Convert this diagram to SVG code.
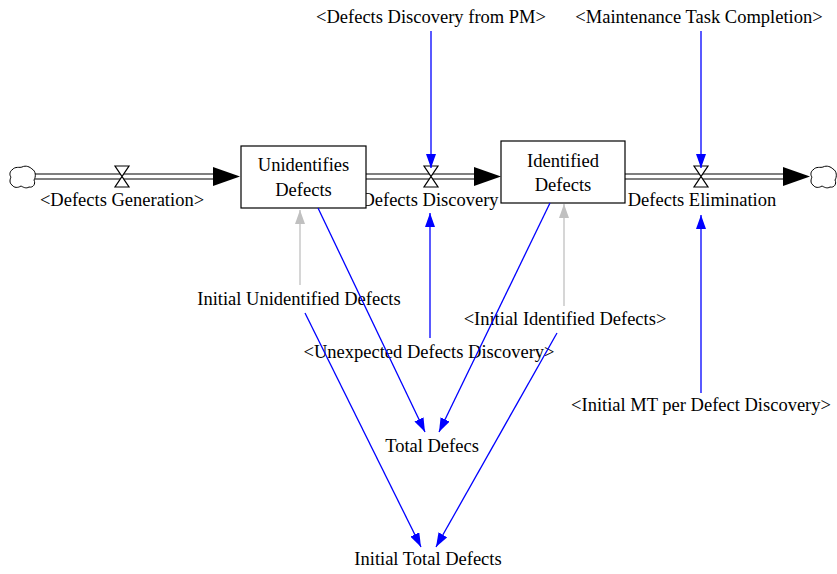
<svg xmlns="http://www.w3.org/2000/svg" width="837" height="574" viewBox="0 0 837 574">
<style>
text{font-family:'Liberation Serif','Times New Roman',serif;font-size:18.5px;fill:#000;text-anchor:middle}
.box{fill:#fff;stroke:#000;stroke-width:1.2}
.pipe{stroke:#000;stroke-width:1.2;fill:none}
.valve{fill:#fff;stroke:#000;stroke-width:1.2}
.cloud{fill:#fff;stroke:#000;stroke-width:1}
.blue{stroke:#0000ff;stroke-width:1.3;fill:none}
.gray{stroke:#c0c0c0;stroke-width:1.3;fill:none}
</style>
<defs>
<marker id="ab" viewBox="0 0 14 10" refX="14" refY="5" markerWidth="14" markerHeight="10" markerUnits="userSpaceOnUse" orient="auto"><path d="M0,0L14,5L0,10z" fill="#0000ff"/></marker>
<marker id="ag" viewBox="0 0 14 10" refX="14" refY="5" markerWidth="14" markerHeight="10" markerUnits="userSpaceOnUse" orient="auto"><path d="M0,0L14,5L0,10z" fill="#c0c0c0"/></marker>
</defs>
<g id="flows">
<path class="pipe" d="M35,174H214M35,179H214"/>
<path d="M213,167L240,176.5L213,186z" fill="#000"/>
<path class="pipe" d="M366,174H475M366,179H475"/>
<path d="M474,167L501,176.5L474,186z" fill="#000"/>
<path class="pipe" d="M625,174H784M625,179H784"/>
<path d="M783,167L810,176.5L783,186z" fill="#000"/>
</g>
<g id="cloud-left"><path class="cloud" d="M12,170c3,-4 8,-2 10,-3c4,-2 8,0 10,2c4,2 4,8 2,11c2,4 -1,8 -5,7c-3,2 -6,0 -8,-1c-3,2 -7,2 -9,-1c-3,-2 -2,-6 -1,-8c-2,-2 -1,-6 1,-7z"/></g>
<g id="cloud-right"><path class="cloud" d="M813,170c3,-4 8,-2 10,-3c4,-2 8,0 10,2c4,2 4,8 2,11c2,4 -1,8 -5,7c-3,2 -6,0 -8,-1c-3,2 -7,2 -9,-1c-3,-2 -2,-6 -1,-8c-2,-2 -1,-6 1,-7z"/></g>
<g id="valve-generation"><path class="valve" d="M115,166H129L115,187H129z"/><text x="122" y="206">&lt;Defects Generation&gt;</text></g>
<g id="valve-discovery"><path class="valve" d="M424,166H438L424,187H438z"/><text x="430" y="206">Defects Discovery</text></g>
<g id="valve-elimination"><path class="valve" d="M694,166H708L694,187H708z"/><text x="702" y="206">Defects Elimination</text></g>
<g id="unidentified"><rect class="box" x="241" y="146" width="125" height="62"/><text x="303.5" y="171">Unidentifies</text><text x="303.5" y="196">Defects</text></g>
<g id="identified"><rect class="box" x="501" y="141" width="124" height="62"/><text x="563" y="167">Identified</text><text x="563" y="191">Defects</text></g>
<g id="pm"><text x="431" y="23">&lt;Defects Discovery from PM&gt;</text></g>
<g id="mtc"><text x="699" y="23">&lt;Maintenance Task Completion&gt;</text></g>
<g id="init-unidentified"><text x="299" y="305">Initial Unidentified Defects</text></g>
<g id="unexpected"><text x="429" y="358">&lt;Unexpected Defects Discovery&gt;</text></g>
<g id="init-identified"><text x="565" y="325">&lt;Initial Identified Defects&gt;</text></g>
<g id="init-mt"><text x="701" y="411">&lt;Initial MT per Defect Discovery&gt;</text></g>
<g id="total"><text x="432" y="452">Total Defecs</text></g>
<g id="init-total"><text x="428" y="565">Initial Total Defects</text></g>
<g id="connectors">
<line class="blue" x1="431" y1="31" x2="431" y2="168" marker-end="url(#ab)" stroke-width="1.5"/>
<line class="blue" x1="701" y1="31" x2="701" y2="168" marker-end="url(#ab)" stroke-width="1.5"/>
<line class="blue" x1="430" y1="338" x2="430" y2="213" marker-end="url(#ab)" stroke-width="1.5"/>
<line class="blue" x1="701" y1="393" x2="701" y2="215" marker-end="url(#ab)" stroke-width="1.5"/>
<line class="gray" x1="300" y1="285" x2="300" y2="210" marker-end="url(#ag)"/>
<line class="gray" x1="564" y1="306" x2="564" y2="204" marker-end="url(#ag)"/>
<line class="blue" x1="318" y1="208" x2="425" y2="432" marker-end="url(#ab)"/>
<line class="blue" x1="550" y1="203" x2="439" y2="432" marker-end="url(#ab)"/>
<line class="blue" x1="305" y1="313" x2="421" y2="547" marker-end="url(#ab)"/>
<line class="blue" x1="557" y1="333" x2="436" y2="547" marker-end="url(#ab)"/>
</g>
</svg>
